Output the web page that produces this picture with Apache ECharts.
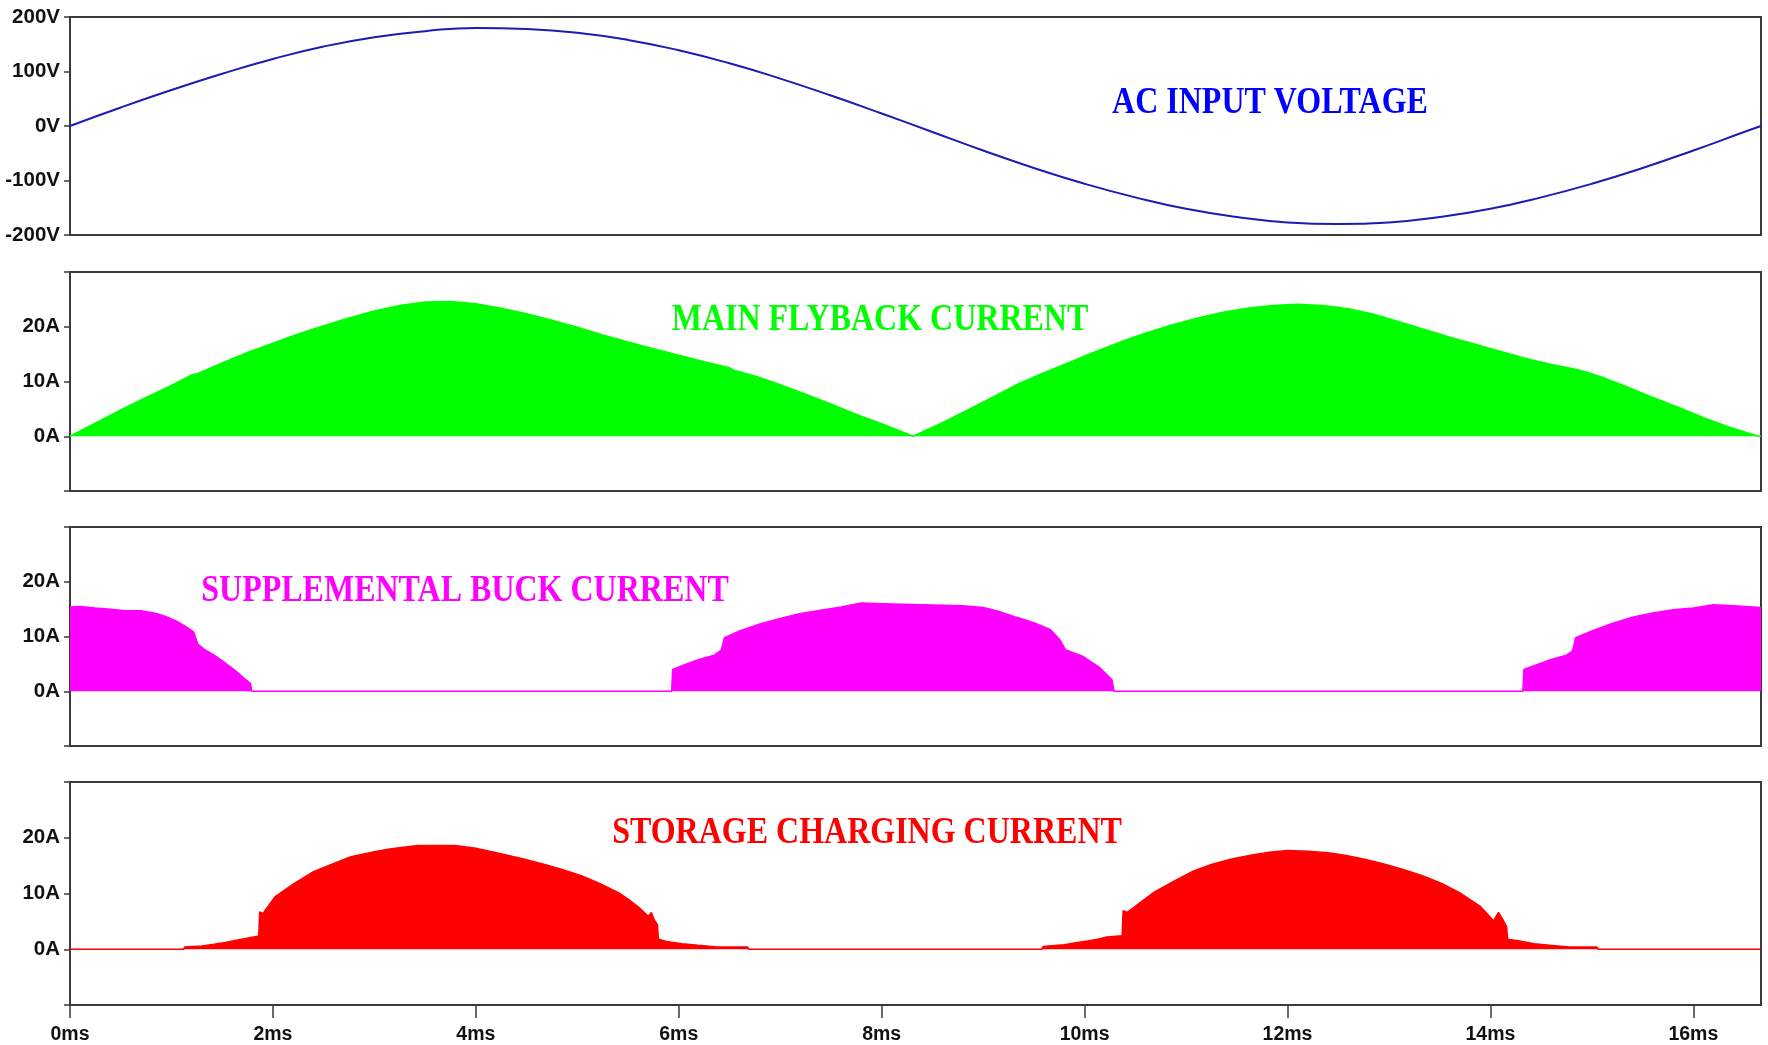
<!DOCTYPE html>
<html>
<head>
<meta charset="utf-8">
<script src="https://cdn.jsdelivr.net/npm/echarts@6/dist/echarts.min.js"></script>
<style>
html,body{margin:0;padding:0;background:#fff;}
#chart{width:1768px;height:1045px;}
</style>
</head>
<body>
<div id="chart"></div>
<script>
// ---- data (time in ms) ----
const msTicks = [0, 2, 4, 6, 8, 10, 12, 14, 16];
const tEnd = 16.667;

const vinT = [0,0.5,1,1.5,2,2.5,3,3.5,4,4.5,5,5.5,6,6.5,7,7.5,8,8.5,9,9.5,10,10.5,11,11.5,12,12.5,13,13.5,14,14.5,15,15.5,16,16.5,16.667];
const vinV = [0,34,66,96,123,146,163,174,180,178,171,158,139,115,87,56,23,-11,-45,-77,-106,-131,-152,-167,-177,-180,-177,-167,-152,-131,-106,-77,-45,-11,0];

const flyT = [0,0.25,0.5,0.75,1.0,1.2,1.25,1.5,1.75,2.0,2.25,2.5,2.75,3.0,3.25,3.5,3.75,4.0,4.25,4.5,4.75,5.0,5.25,5.5,5.75,6.0,6.25,6.5,6.55,6.75,7.0,7.25,7.5,7.75,8.0,8.31,
  8.6,8.85,9.1,9.35,9.6,9.85,10.1,10.35,10.6,10.85,11.1,11.35,11.6,11.85,12.1,12.35,12.6,12.85,13.1,13.35,13.6,13.85,14.1,14.35,14.6,14.85,14.95,15.1,15.35,15.6,15.85,16.1,16.35,16.64,16.667];
const flyI = [0,2.4,4.8,7.1,9.3,11.2,11.4,13.4,15.3,17.0,18.7,20.2,21.6,22.9,23.9,24.5,24.6,24.2,23.4,22.4,21.2,19.9,18.5,17.2,16.0,14.8,13.6,12.5,12.0,11.0,9.4,7.7,5.9,4.0,2.3,0,
  2.5,4.8,7.2,9.6,11.6,13.5,15.4,17.2,18.8,20.3,21.5,22.6,23.4,23.9,24.1,23.9,23.3,22.3,20.9,19.5,18.1,16.8,15.5,14.2,13.1,12.2,11.7,10.8,9.0,7.1,5.3,3.4,1.7,0,0];

const buckT = [0,0.1,0.25,0.4,0.55,0.7,0.85,0.95,1.05,1.15,1.22,1.26,1.32,1.42,1.52,1.62,1.72,1.78,1.79,
  5.93,5.94,6.05,6.2,6.35,6.42,6.45,6.6,6.8,7.0,7.2,7.4,7.6,7.8,8.0,8.2,8.4,8.6,8.8,9.0,9.15,9.33,9.5,9.66,9.76,9.81,9.98,10.15,10.27,10.29,
  14.32,14.33,14.45,14.6,14.75,14.81,14.84,15.0,15.2,15.4,15.6,15.8,16.0,16.2,16.4,16.667];
const buckI = [15.4,15.5,15.2,15.0,14.7,14.7,14.2,13.6,12.8,11.7,10.8,8.6,7.7,6.6,5.3,3.9,2.3,1.4,0,
  0,4.0,4.8,5.8,6.6,7.5,9.8,11.0,12.3,13.3,14.2,14.8,15.4,16.1,16.0,15.9,15.8,15.7,15.6,15.3,14.6,13.5,12.5,11.3,9.3,7.6,6.4,4.3,2.1,0,
  0,4.0,4.8,5.8,6.6,7.4,9.8,11.0,12.4,13.5,14.3,14.9,15.2,15.8,15.6,15.3];

const storT = [0,1.12,1.13,1.3,1.42,1.53,1.64,1.76,1.86,1.87,1.9,2.02,2.2,2.4,2.6,2.77,3.0,3.15,3.43,3.79,4.0,4.28,4.47,4.66,4.85,5.04,5.22,5.41,5.5,5.6,5.7,5.73,5.76,5.79,5.8,5.88,6.03,6.19,6.38,6.68,6.69,
  9.58,9.59,9.8,9.93,10.03,10.13,10.22,10.37,10.38,10.42,10.69,10.9,11.07,11.25,11.45,11.65,11.82,12.0,12.2,12.4,12.58,12.77,12.95,13.14,13.33,13.52,13.71,13.9,14.03,14.08,14.12,14.16,14.17,14.29,14.43,14.58,14.78,15.05,15.06,16.667];
const storI = [0,0,0.4,0.6,0.9,1.2,1.6,2.0,2.4,6.7,6.4,9.4,11.7,13.9,15.4,16.6,17.5,18.0,18.6,18.6,18.1,17.0,16.2,15.3,14.3,13.2,11.8,10.1,9.0,7.6,5.9,6.6,5.2,4.4,1.8,1.4,1.0,0.7,0.4,0.4,0,
  0,0.5,0.8,1.2,1.5,1.8,2.2,2.4,6.9,6.6,10.3,12.4,14.0,15.2,16.2,16.9,17.4,17.7,17.6,17.3,16.8,16.1,15.3,14.3,13.2,11.8,10.0,7.7,5.1,6.6,5.4,4.0,1.8,1.5,1.0,0.7,0.4,0.4,0,0];

const zip = (t, v) => t.map((x, i) => [x, v[i]]);

// ---- chart ----
const frame = '#3a3a3a';
const fontFam = '"Liberation Sans", Arial, sans-serif';
const yFont = {fontFamily: fontFam, fontWeight: 'bold', fontSize: 20.5, color: '#111'};
const xFont = {fontFamily: fontFam, fontWeight: 'bold', fontSize: 19.5, color: '#111'};
const grids = [
  {top: 17, height: 218},
  {top: 272, height: 219},
  {top: 527, height: 219},
  {top: 782, height: 223}
].map(g => Object.assign({left: 70, right: 7, show: true, borderColor: frame, borderWidth: 2,
  backgroundColor: '#fff', containLabel: false, outerBoundsMode: 'none'}, g));

const xAxes = grids.map((g, i) => {
  const last = i === 3;
  return {
    type: 'value', gridIndex: i, min: 0, max: tEnd, interval: 2,
    splitLine: {show: false},
    axisLine: {show: last, onZero: false, lineStyle: {color: frame, width: 2}},
    axisTick: {show: last, length: 13, inside: false, lineStyle: {color: frame, width: 1.5}, customValues: msTicks},
    axisLabel: Object.assign({show: last, margin: 20, customValues: msTicks, formatter: v => v + 'ms'}, xFont)
  };
});

const yAxes = grids.map((g, i) => {
  const volt = i === 0;
  return {
    type: 'value', gridIndex: i,
    min: volt ? -200 : -10, max: volt ? 200 : 30, interval: volt ? 100 : 10,
    splitLine: {show: false},
    axisLine: {show: true, onZero: false, lineStyle: {color: frame, width: 2}},
    axisTick: {show: true, length: 6, inside: false, lineStyle: {color: frame, width: 1.5}},
    axisLabel: Object.assign({
      margin: 10,
      formatter: v => volt ? v + 'V' : ((v === -10 || v === 30) ? '' : v + 'A')
    }, yFont)
  };
});

function title(text, x, y, color) {
  return {
    type: 'text', x: x, y: y, scaleY: 1.17, z: 100,
    style: {
      text: text, fill: color,
      font: 'bold 32px "Liberation Serif", "Times New Roman", serif',
      textAlign: 'center', textVerticalAlign: 'middle',
      align: 'center', verticalAlign: 'middle'
    }
  };
}

const option = {
  animation: false,
  backgroundColor: '#fff',
  grid: grids,
  xAxis: xAxes,
  yAxis: yAxes,
  graphic: [
    title('AC INPUT VOLTAGE', 1270, 103, '#0000ff'),
    title('MAIN FLYBACK CURRENT', 880, 320, '#00ff00'),
    title('SUPPLEMENTAL BUCK CURRENT', 465, 591, '#ff00ff'),
    title('STORAGE CHARGING CURRENT', 867, 833, '#ff0000')
  ],
  series: [
    {type: 'line', xAxisIndex: 0, yAxisIndex: 0, data: zip(vinT, vinV), smooth: true, symbol: 'none',
     lineStyle: {color: '#1c1cb4', width: 2}},
    {type: 'line', xAxisIndex: 1, yAxisIndex: 1, data: zip(flyT, flyI), symbol: 'none',
     lineStyle: {color: '#00ff00', width: 1.5}, areaStyle: {color: '#00ff00', opacity: 1}},
    {type: 'line', xAxisIndex: 2, yAxisIndex: 2, data: zip(buckT, buckI), symbol: 'none',
     lineStyle: {color: '#ff00ff', width: 1.5}, areaStyle: {color: '#ff00ff', opacity: 1}},
    {type: 'line', xAxisIndex: 3, yAxisIndex: 3, data: zip(storT, storI), symbol: 'none',
     lineStyle: {color: '#ff0000', width: 1.5}, areaStyle: {color: '#ff0000', opacity: 1}}
  ]
};

const chart = echarts.init(document.getElementById('chart'), null, {renderer: 'canvas'});
chart.setOption(option);
</script>
</body>
</html>
